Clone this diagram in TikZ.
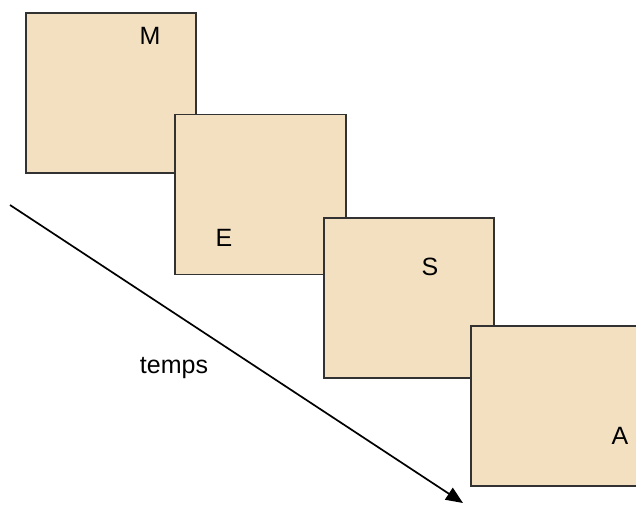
\documentclass[tikz,border=0pt]{standalone}
\usepackage{fontspec}
\setmainfont{Liberation Sans}
\usetikzlibrary{arrows.meta}
\definecolor{panelfill}{RGB}{243,224,193}
\definecolor{paneledge}{RGB}{50,50,50}
\tikzset{
  panel/.style={rectangle, draw=paneledge, fill=panelfill, line width=1.8pt,
    inner sep=0pt, outer sep=0pt},
  letter/.style={font=\fontsize{25}{29}\selectfont, inner sep=0pt},
  timeline/.style={line width=1.7pt, -{Triangle[length=17pt,width=14pt]}}
}
\begin{document}
\begin{tikzpicture}[x=1pt,y=-1pt]
  \useasboundingbox (0,0) rectangle (636,506);
  % staggered panels, each drawn over the previous one
  \node[panel, minimum width=170pt, minimum height=160pt] (m) at (111,93) {};
  \node[panel, minimum width=171pt, minimum height=160pt] (e) at (260.5,194.5) {};
  \node[panel, minimum width=170pt, minimum height=160pt] (s) at (409,298) {};
  \node[panel, minimum width=189pt, minimum height=160pt] (a) at (565.5,406) {};
  % panel letters
  \node[letter] (lm) at (150,36) {M};
  \node[letter] (le) at (224,238) {E};
  \node[letter] (ls) at (430,267) {S};
  \node[letter] (la) at (620,436) {A};
  % time axis
  \coordinate (t0) at (10,205);
  \coordinate (t1) at (463,503);
  \draw[timeline] (t0) -- (t1);
  \node[letter] (temps) at (174,368) {temps};
\end{tikzpicture}
\end{document}
